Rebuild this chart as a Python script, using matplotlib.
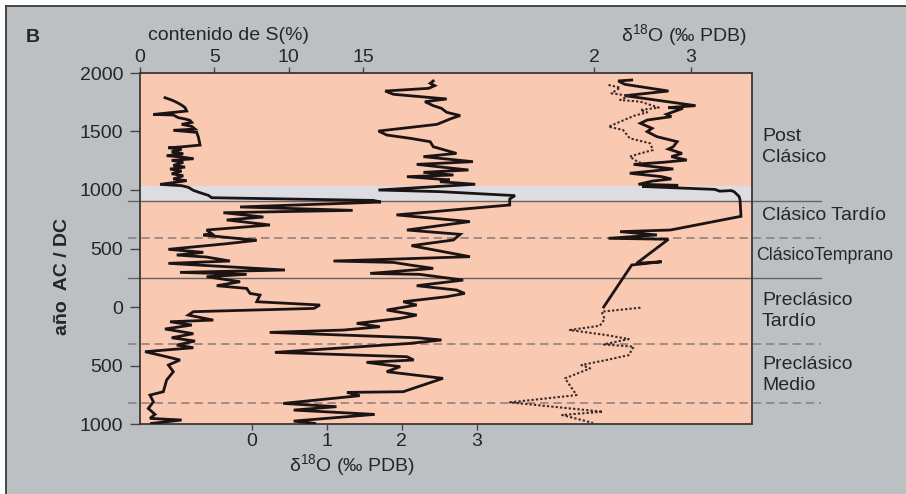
import matplotlib.pyplot as plt
from matplotlib.patches import Rectangle
from matplotlib.lines import Line2D

plt.rcParams['font.family'] = ['Liberation Sans', 'DejaVu Sans']
plt.rcParams['mathtext.fontset'] = 'custom'
plt.rcParams['mathtext.rm'] = 'Liberation Sans'
plt.rcParams['mathtext.it'] = 'Liberation Sans:italic'

# ---- data ----
year_ticks = [2000, 1500, 1000, 500, 0, -500, -1000]
year_labels = ['2000', '1500', '1000', '500', '0', '500', '1000']
s_ticks = [0, 5, 10, 15]
d18o_top_ticks = [2, 3]
d18o_bottom_ticks = [0, 1, 2, 3]

# sulphur content (%), left curve
s_year = [1789, 1769, 1749, 1726, 1704, 1675, 1646, 1641, 1618, 1607,
          1595, 1578, 1561, 1544, 1521, 1510, 1493, 1455, 1384, 1370,
          1361, 1347, 1327, 1310, 1293, 1282, 1267, 1253, 1236, 1210,
          1196, 1179, 1162, 1139, 1122, 1094, 1080, 1065, 1048, 1037,
          1023, 997, 977, 954, 934, 911, 897, 855, 826, 806,
          769, 744, 701, 658, 627, 615, 595, 570, 541, 493,
          467, 444, 427, 393, 373, 316, 296, 279, 259, 216,
          182, 159, 116, 102, 45, 17, -12, -40, -69, -112,
          -126, -154, -188, -228, -263, -291, -325, -348, -382, -425,
          -453, -496, -553, -624, -724, -753, -810, -867, -918, -952,
          -966, -995]
s_pct = [1.68, 2.13, 2.47, 2.80, 3.03, 3.14, 0.90, 2.24, 2.58, 3.03,
         3.36, 3.48, 2.80, 3.48, 3.70, 2.24, 3.81, 3.92, 4.04, 2.91,
         1.91, 2.80, 2.13, 2.91, 1.79, 2.80, 3.59, 2.13, 2.91, 2.24,
         3.03, 2.02, 2.80, 2.13, 2.91, 2.24, 3.14, 2.35, 1.35, 2.80,
         3.25, 3.59, 4.04, 4.60, 4.82, 15.7, 16.2, 6.73, 14.3, 5.61,
         8.30, 5.83, 8.74, 4.48, 4.82, 4.26, 5.83, 7.85, 5.83, 1.91,
         4.26, 2.47, 4.48, 6.05, 1.91, 9.75, 2.69, 7.17, 4.48, 6.73,
         5.16, 7.17, 7.40, 8.07, 7.85, 12.1, 11.7, 3.59, 3.25, 4.93,
         2.02, 3.48, 1.68, 3.59, 2.13, 3.70, 2.47, 3.59, 0.34, 1.79,
         2.69, 1.91, 2.24, 1.79, 1.57, 0.67, 0.90, 0.56, 1.01, 0.67,
         2.80, 0.78]

# d18O (bottom axis), middle curve
mid_year = [1932, 1912, 1892, 1869, 1846, 1818, 1778, 1755, 1721, 1698,
            1664, 1636, 1613, 1561, 1504, 1470, 1442, 1413, 1370, 1313,
            1285, 1242, 1219, 1171, 1151, 1128, 1114, 1086, 1071, 1049,
            1000, 986, 952, 923, 872, 787, 730, 658, 621, 573,
            524, 430, 393, 381, 359, 330, 287, 279, 230, 182,
            145, 116, 88, 45, 17, -26, -69, -97, -140, -169,
            -197, -217, -263, -282, -311, -388, -425, -453, -473, -510,
            -553, -610, -724, -730, -758, -824, -852, -881, -918, -975,
            -995]
mid_d18o = [2.42, 2.38, 2.44, 2.36, 1.78, 1.89, 2.60, 2.31, 2.42, 2.53,
            2.60, 2.78, 2.67, 2.47, 1.69, 1.80, 2.11, 2.38, 2.42, 2.73,
            2.29, 2.95, 2.20, 2.89, 2.29, 2.69, 2.07, 2.64, 2.51, 2.98,
            1.69, 2.51, 3.51, 3.44, 3.44, 1.93, 2.91, 2.07, 2.78, 2.69,
            2.13, 2.91, 1.09, 1.89, 2.11, 2.42, 1.58, 2.24, 2.82, 2.20,
            2.73, 2.84, 2.60, 2.02, 2.20, 1.80, 2.20, 1.98, 1.40, 1.71,
            1.22, 0.24, 2.20, 2.53, 2.11, 0.31, 2.07, 2.16, 1.53, 1.98,
            1.80, 2.55, 2.02, 1.27, 1.44, 0.42, 1.13, 0.56, 1.64, 0.56,
            0.84]

# d18O (top axis), right curve, solid record
right_year = [1940, 1932, 1903, 1846, 1806, 1721, 1704, 1698, 1647, 1627,
              1598, 1570, 1527, 1499, 1456, 1413, 1370, 1350, 1313, 1285,
              1256, 1237, 1219, 1180, 1143, 1114, 1094, 1077, 1049, 1040,
              1030, 1005, 990, 995, 985, 945, 915, 775, 658, 644,
              616, 587, 579, 373, 387, 359, 0]
right_d18o = [2.39, 2.25, 2.32, 2.77, 2.32, 3.05, 2.77, 2.92, 2.75, 2.80,
              2.55, 2.48, 2.60, 2.55, 2.65, 2.86, 2.82, 2.77, 2.91, 2.80,
              2.96, 2.72, 2.41, 2.82, 2.37, 2.70, 2.80, 2.61, 2.46, 2.87,
              2.50, 3.25, 3.30, 3.42, 3.45, 3.50, 3.51, 3.52, 2.79, 2.27,
              2.65, 2.15, 2.77, 2.44, 2.70, 2.39, 2.10]

# d18O (top axis), dotted records
dot_post_year = [1898, 1875, 1826, 1806, 1769, 1755, 1704, 1684, 1664, 1636,
                 1584, 1541, 1513, 1442, 1399, 1342, 1313, 1285, 1237, 1228]
dot_post_d18o = [2.15, 2.27, 2.18, 2.36, 2.27, 2.48, 2.67, 2.48, 2.55, 2.42,
                 2.27, 2.15, 2.30, 2.37, 2.58, 2.61, 2.48, 2.37, 2.46, 2.51]
dot_pre_year = [-6, -40, -103, -160, -197, -240, -274, -320, -339, -411,
                -453, -496, -525, -610, -753, -815, -895, -923, -991]
dot_pre_d18o = [2.48, 2.08, 2.11, 2.06, 1.75, 2.13, 2.36, 2.10, 2.41, 2.36,
                2.13, 1.87, 1.96, 1.70, 1.82, 1.13, 2.09, 1.67, 1.99]

# period boundaries (years) and the grey band
solid_bounds = [910, 248]
dashed_bounds = [590, -316, -820]
grey_band = (910, 1035)
period_names = ['Post\nClásico', 'Clásico Tardío', 'ClásicoTemprano',
                'Preclásico\nTardío', 'Preclásico\nMedio']

# ---- figure ----
W, H = 906, 494
ink = '#1c1414'
txt = '#262626'
fig = plt.figure(figsize=(W / 100, H / 100), dpi=100, facecolor='white')

# grey panel with a dark edge on top and left
fig.patches.append(Rectangle((6 / W, 0), 1, 1 - 6 / H, transform=fig.transFigure,
                             facecolor='#bcc0c3', edgecolor='none', zorder=-10))
fig.add_artist(Line2D([6 / W, 1], [1 - 6 / H] * 2, transform=fig.transFigure,
                      color='#3a3a3a', lw=1.3))
fig.add_artist(Line2D([6 / W] * 2, [0, 1 - 6 / H], transform=fig.transFigure,
                      color='#3a3a3a', lw=1.3))

ax = fig.add_axes([140 / W, 70 / H, 612 / W, 351 / H])
ax.set_facecolor('#f9c9b2')
ax.set_ylim(-1000, 2000)
ax.set_xlim(0, 612 / 14.87)

ax_bot = ax.twiny()
ax_bot.set_xlim(-111.7 / 75, 500.3 / 75)
ax_top = ax.twiny()
ax_top.set_xlim(2 - 454 / 96.7, 2 + 158 / 96.7)

for a in (ax, ax_bot, ax_top):
    for sp in a.spines.values():
        sp.set_color('#3c3636')
        sp.set_linewidth(1.3)
for a in (ax_bot, ax_top):
    for sp in a.spines.values():
        sp.set_visible(False)

# band and period lines
ax.axhspan(grey_band[0], grey_band[1], color='#dcdde3', lw=0, zorder=0.5)
for y in solid_bounds:
    ax.plot([-0.02, 1.113], [y, y], transform=ax.get_yaxis_transform(),
            clip_on=False, color='#6a6262', lw=1.0, zorder=1)
for y in dashed_bounds:
    ax.plot([-0.02, 1.113], [y, y], transform=ax.get_yaxis_transform(),
            clip_on=False, color='#8c7b78', lw=1.1, dashes=(5.5, 3.2), zorder=1)

# curves
ax.plot(s_pct, s_year, color=ink, lw=2.0, solid_joinstyle='miter', zorder=3)
ax_bot.plot(mid_d18o, mid_year, color=ink, lw=2.0, solid_joinstyle='miter', zorder=3)
ax_top.plot(right_d18o, right_year, color=ink, lw=2.0, solid_joinstyle='miter', zorder=3)
ax_top.plot(dot_post_d18o, dot_post_year, color='#3a2a2a', lw=1.5,
            linestyle=(0, (1.1, 1.0)), zorder=3)
ax_top.plot(dot_pre_d18o, dot_pre_year, color='#3a2a2a', lw=1.5,
            linestyle=(0, (1.1, 1.0)), zorder=3)

# ticks
ax.set_yticks(year_ticks, labels=year_labels)
ax.tick_params(axis='y', direction='out', length=7, width=1, pad=5,
               labelsize=14, color='#4a4444', labelcolor=txt)
ax.set_xticks(s_ticks)
ax.tick_params(axis='x', top=True, bottom=False, labeltop=True, labelbottom=False,
               direction='out', length=4.5, width=1, pad=0.5, labelsize=14,
               color='#4a4444', labelcolor=txt)
ax_top.set_xticks(d18o_top_ticks)
ax_top.tick_params(axis='x', top=True, bottom=False, labeltop=True, labelbottom=False,
                   direction='out', length=4.5, width=1, pad=0.5, labelsize=14,
                   color='#4a4444', labelcolor=txt)
ax_bot.set_xticks(d18o_bottom_ticks)
ax_bot.tick_params(axis='x', top=False, bottom=True, labeltop=False, labelbottom=True,
                   direction='out', length=4.5, width=1, pad=2, labelsize=14,
                   color='#4a4444', labelcolor=txt)
ax.tick_params(axis='y', right=False)


def ftext(x, y, s, **kw):
    fig.text(x / W, 1 - y / H, s, color=txt, **kw)


# axis titles and panel letter
ftext(33, 38, 'B', fontsize=14, fontweight='bold', ha='center', va='center')
ftext(229, 35, 'contenido de S(%)', fontsize=14, ha='center', va='center')
ftext(684, 35, r'δ$^{18}$O (‰ PDB)', fontsize=14, ha='center', va='center')
ftext(352, 465, r'δ$^{18}$O (‰ PDB)', fontsize=14, ha='center', va='center')
ftext(63, 276, 'año  AC / DC', fontsize=14, fontweight='bold', rotation=90,
      ha='center', va='center')

# period labels on the right
label_pos = [(762, 147), (762, 215), (756, 255), (762, 311), (762, 375)]
label_size = [14, 14, 12.8, 14, 14]
for name, (x, y), fs in zip(period_names, label_pos, label_size):
    ftext(x, y, name, fontsize=fs, ha='left', va='center', linespacing=1.35)

fig.savefig('out.png', dpi=100, facecolor='white')
